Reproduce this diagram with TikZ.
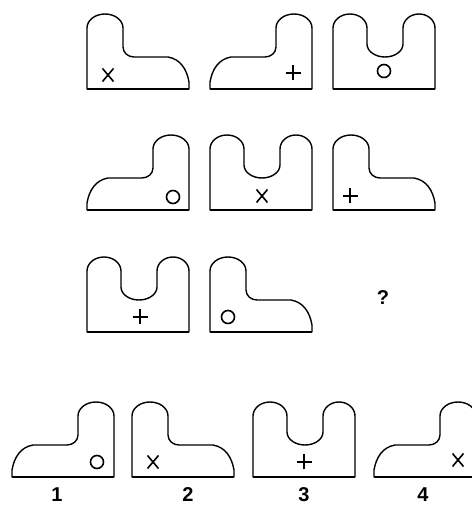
\documentclass[tikz,border=0pt]{standalone}
\usepackage{fontspec}
\setmainfont{Liberation Sans}
\begin{document}
\begin{tikzpicture}[x=1pt,y=1pt,
  outline/.style={line width=1.4pt,line join=round},
  base/.style={line width=2.8pt},
  mk/.style={line width=1.6pt},
  lbl/.style={font=\bfseries\fontsize{20}{20}\selectfont,inner sep=0pt},
  Lshape/.pic={
    \draw[outline] (0,0) -- (0,61) arc[start angle=180,end angle=0,x radius=18,y radius=14]
      -- (36,42) to[out=-90,in=180] (47,32) -- (81,32) to[out=-10,in=100] (102,7) -- (102,0) -- cycle;
    \draw[base] (0,0) -- (102,0);
  },
  Rshape/.pic={
    \draw[outline] (102,0) -- (102,61) arc[start angle=0,end angle=180,x radius=18,y radius=14]
      -- (66,42) to[out=-90,in=0] (55,32) -- (21,32) to[out=190,in=80] (0,7) -- (0,0) -- cycle;
    \draw[base] (0,0) -- (102,0);
  },
  Ushape/.pic={
    \draw[outline] (0,0) -- (0,61) arc[start angle=180,end angle=0,x radius=17,y radius=14]
      -- (34,45) arc[start angle=180,end angle=360,x radius=18,y radius=13]
      -- (70,61) arc[start angle=180,end angle=0,x radius=16,y radius=14] -- (102,0) -- cycle;
    \draw[base] (0,0) -- (102,0);
  },
  xmark/.pic={\draw[mk] (-5.5,-6.5) -- (5.5,6.5) (-5.5,6.5) -- (5.5,-6.5);},
  pmark/.pic={\draw[line width=2.2pt] (-7.5,0) -- (7.5,0) (0,-7.5) -- (0,7.5);},
  omark/.pic={\draw[mk] (0,0) circle[radius=6.5];}
]
\useasboundingbox (0,0) rectangle (472,507);
\begin{scope}
\clip (0,0) rectangle (472,507);
% row 1
\pic at (87,418) {Lshape};
\pic at (108,432) {xmark};
\pic at (210,418) {Rshape};
\pic at (293,434) {pmark};
\pic at (333,418) {Ushape};
\pic at (384,436) {omark};
% row 2
\pic at (87,297) {Rshape};
\pic at (173,310) {omark};
\pic at (210,297) {Ushape};
\pic at (262,311) {xmark};
\pic at (333,297) {Lshape};
\pic at (350,311) {pmark};
% row 3
\pic at (87,175) {Ushape};
\pic at (140,190) {pmark};
\pic at (210,175) {Lshape};
\pic at (228,190) {omark};
% row 4 (answers)
\pic at (12,30) {Rshape};
\pic at (97,45) {omark};
\pic at (132,30) {Lshape};
\pic at (153,45) {xmark};
\pic at (253,30) {Ushape};
\pic at (304,45) {pmark};
\pic at (374,30) {Rshape};
\pic at (458,47) {xmark};
\end{scope}
\node[lbl] (q) at (383,209) {?};
\node[lbl] (l1) at (57,12) {1};
\node[lbl] (l2) at (188,12) {2};
\node[lbl] (l3) at (304,12) {3};
\node[lbl] (l4) at (423,12) {4};
\end{tikzpicture}
\end{document}
